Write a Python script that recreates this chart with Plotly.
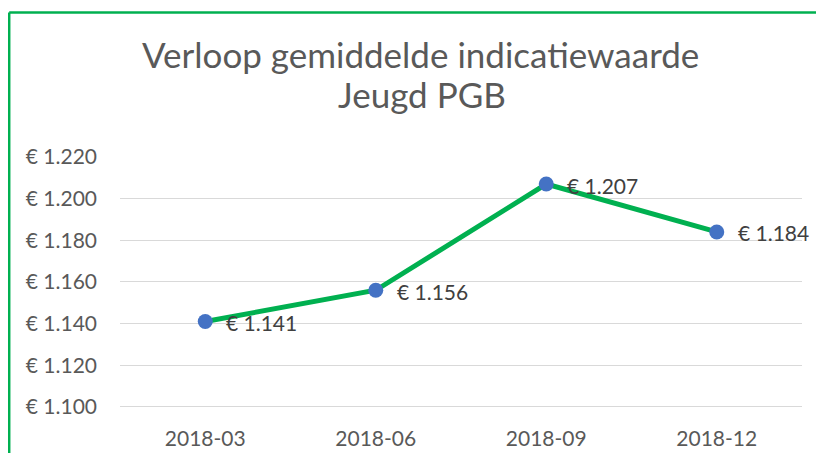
import plotly.graph_objects as go

categories = ["2018-03", "2018-06", "2018-09", "2018-12"]
values = [1141, 1156, 1207, 1184]
y_ticks = [1100, 1120, 1140, 1160, 1180, 1200, 1220]
title_lines = ["Verloop gemiddelde indicatiewaarde", "Jeugd PGB"]

def eur(v):
    return "€ " + f"{v:,}".replace(",", ".")

labels = [eur(v) for v in values]
tick_text = [eur(v) for v in y_ticks]

FONT = "Lato"
GRAY = "#595959"

fig = go.Figure()
fig.add_trace(go.Scatter(
    x=categories, y=values, mode="lines+markers",
    line=dict(color="#00B050", width=5),
    marker=dict(color="#4472C4", size=15),
    cliponaxis=False, hoverinfo="skip", showlegend=False,
))

# page body has an 8px margin; figure sized so the page does not overflow
W, H = 808, 445
L, R, T, B = 112, 14, 149, 42
pw, ph = W - L - R, H - T - B

annotations = [
    dict(x=c, y=v, xref="x", yref="y", text=t, showarrow=False,
         xanchor="left", yanchor="middle", xshift=19, yshift=-1,
         font=dict(family=FONT, size=21, color="#404040"))
    for c, v, t in zip(categories, values, labels)
]
for line, cx, cy in zip(title_lines, [412, 414], [46, 86]):
    annotations.append(dict(
        text=line, xref="paper", yref="paper",
        x=(cx - L) / pw, y=(H - B - cy) / ph,
        xanchor="center", yanchor="middle", showarrow=False,
        font=dict(family=FONT, size=35, color=GRAY),
    ))

border = dict(color="#00B050", width=2.5)
fig.update_layout(
    width=W, height=H,
    margin=dict(l=L, r=R, t=T, b=B),
    paper_bgcolor="white", plot_bgcolor="white",
    annotations=annotations,
    xaxis=dict(
        type="category", range=[-0.5, 3.5], showgrid=False, zeroline=False,
        showline=False, ticks="", ticklabelstandoff=13, automargin=False,
        tickfont=dict(family=FONT, size=21, color=GRAY),
    ),
    yaxis=dict(
        range=[1098, 1220], tickvals=y_ticks, ticktext=tick_text,
        showgrid=True, gridcolor="#D9D9D9", gridwidth=1.3, zeroline=False,
        showline=False, ticks="", ticklabelstandoff=22, automargin=False,
        tickfont=dict(family=FONT, size=21, color=GRAY),
    ),
    shapes=[
        dict(type="line", xref="paper", yref="paper",
             x0=(1.2 - L) / pw, x1=(1.2 - L) / pw,
             y0=-B / ph, y1=(H - B - 4.5) / ph, line=border, layer="below"),
        dict(type="line", xref="paper", yref="paper",
             x0=(1.2 - L) / pw, x1=(W - L) / pw,
             y0=(H - B - 4.5) / ph, y1=(H - B - 4.5) / ph, line=border, layer="below"),
    ],
)

fig.write_html("out.html")
